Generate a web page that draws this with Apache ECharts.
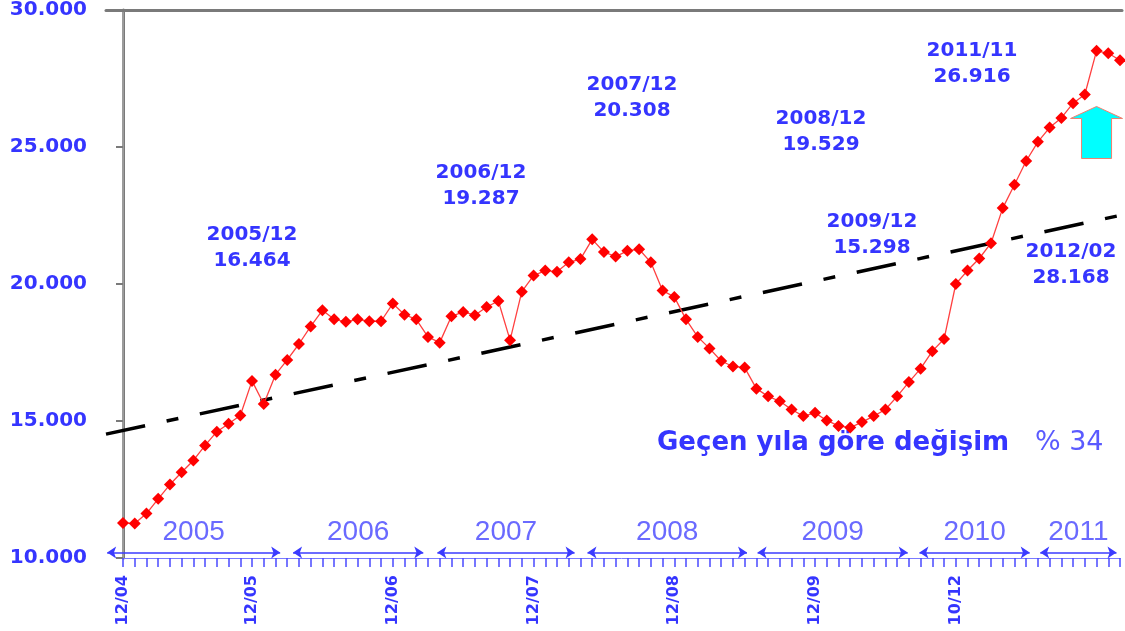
<!DOCTYPE html>
<html>
<head>
<meta charset="utf-8">
<title>Aylık seri 2005-2012</title>
<script src="https://cdn.jsdelivr.net/npm/echarts@6.0.0/dist/echarts.min.js"></script>
<style>
    html, body { margin: 0; padding: 0; background: #fff; }
    #chart { width: 1125px; height: 631px; }
</style>
</head>
<body>
<div id="chart"></div>
<script>
// aylar: 2005/01 .. 2012/02
var months = [];
for (var y = 2005; y <= 2012; y++) {
    for (var m = 1; m <= 12; m++) {
        if (y === 2012 && m > 2) break;
        months.push(y + '/' + (m < 10 ? '0' + m : m));
    }
}

// aylik degerler
var values = [
    11280, 11260, 11620, 12160, 12680, 13130, 13560, 14110, 14610, 14900, 15200, 16464,
    15620, 16690, 17230, 17810, 18450, 19040, 18710, 18620, 18710, 18640, 18640, 19287,
    18880, 18710, 18070, 17860, 18820, 18980, 18860, 19160, 19380, 17950, 19720, 20308,
    20490, 20450, 20790, 20910, 21630, 21170, 21000, 21210, 21270, 20790, 19760, 19529,
    18710, 18070, 17650, 17190, 16990, 16950, 16180, 15900, 15720, 15420, 15180, 15298,
    15020, 14820, 14760, 14960, 15180, 15420, 15900, 16420, 16910, 17550, 17990, 20000,
    20490, 20930, 21490, 22770, 23620, 24490, 25190, 25710, 26060, 26600, 26916,
    28510, 28420, 28168
];

// eksen etiketleri
var labelIdx = [0, 11, 23, 35, 47, 59, 71];
var labelText = ['12/04', '12/05', '12/06', '12/07', '12/08', '12/09', '10/12'];

// yil bantlari (ay indeksi cinsinden)
var years = ['2005', '2006', '2007', '2008', '2009', '2010', '2011'];
var yearStart = [-1.35, 14.5, 26.8, 39.6, 54.1, 67.9, 78.2];
var yearEnd = [13.4, 25.6, 38.5, 53.2, 66.9, 77.3, 84.7];
var yearBandY = 10200;

// trend
var xMin = -1.45, xMax = 85.17;
var trendY = [14520, 22520];

// notlar
var notes = ['2005/12\n16.464', '2006/12\n19.287', '2007/12\n20.308', '2008/12\n19.529',
             '2011/11\n26.916', '2009/12\n15.298', '2012/02\n28.168'];
var notePos = [[252, 248], [481, 186], [632, 98], [821, 132], [972, 64], [872, 235], [1071, 265]];

var arrowAt = [83.0, 25530];

var blue = '#3535ff';
var frame = '#7a7a7a';

var graphics = notes.map(function (t, i) {
    return {
        type: 'text',
        x: notePos[i][0],
        y: notePos[i][1],
        style: {
            text: t,
            font: 'bold 20px "DejaVu Sans"',
            fill: blue,
            align: 'center',
            verticalAlign: 'middle',
            lineHeight: 26
        }
    };
});
graphics.push({
    type: 'text',
    x: 657,
    y: 443,
    style: {
        text: '{b|Geçen yıla göre değişim}{r|   % 34}',
        align: 'left',
        verticalAlign: 'middle',
        rich: {
            b: { font: 'bold 26px "DejaVu Sans"', fill: blue },
            r: { font: '27px "DejaVu Sans"', fill: '#5a5aff' }
        }
    }
});

var option = {
    animation: false,
    backgroundColor: '#ffffff',
    grid: [
        { left: 106, right: 3, top: 5, bottom: 73 },
        { left: 123, right: 5, top: 5, bottom: 73 }
    ],
    xAxis: [
        {
            gridIndex: 0, type: 'value', min: xMin, max: xMax,
            axisLine: { show: false }, axisTick: { show: false },
            axisLabel: { show: false }, splitLine: { show: false }
        },
        {
            gridIndex: 0, type: 'value', position: 'top', min: xMin, max: xMax,
            axisLine: { show: true, lineStyle: { color: frame, width: 3 } },
            axisTick: { show: false }, axisLabel: { show: false }, splitLine: { show: false }
        },
        {
            gridIndex: 1, type: 'category', data: months, boundaryGap: false,
            axisLine: { show: true, lineStyle: { color: '#7a7aff', width: 1 } },
            axisTick: { show: true, interval: 0, length: 9, lineStyle: { color: '#4a4aff', width: 1.5 } },
            axisLabel: {
                interval: function (idx) { return labelIdx.indexOf(idx) >= 0; },
                formatter: function (val, idx) { return labelText[labelIdx.indexOf(idx)]; },
                rotate: 90,
                margin: 17,
                color: blue,
                fontFamily: 'DejaVu Sans',
                fontWeight: 'bold',
                fontSize: 16
            },
            splitLine: { show: false }
        }
    ],
    yAxis: [
        {
            gridIndex: 0, type: 'value', min: 10000, max: 30000, interval: 5000,
            axisLine: { show: true, lineStyle: { color: frame, width: 3 } },
            axisTick: { show: true, length: 7, lineStyle: { color: frame, width: 2 } },
            axisLabel: {
                margin: 19,
                color: blue,
                fontFamily: 'DejaVu Sans',
                fontWeight: 'bold',
                fontSize: 20,
                formatter: function (v) { return (v / 1000).toFixed(3); }
            },
            splitLine: { show: false }
        },
        {
            gridIndex: 0, type: 'value', position: 'right', min: 10000, max: 30000,
            axisLine: { show: true, lineStyle: { color: '#a8a8a8', width: 1.5 } },
            axisTick: { show: false }, axisLabel: { show: false }, splitLine: { show: false }
        },
        { gridIndex: 1, type: 'value', min: 10000, max: 30000, show: false }
    ],
    series: [
        {
            name: 'trend',
            type: 'line',
            xAxisIndex: 0,
            yAxisIndex: 0,
            data: [[xMin, trendY[0]], [xMax, trendY[1]]],
            symbol: 'none',
            lineStyle: { color: '#000000', width: 3.5, type: [40, 22, 12, 22] },
            z: 2,
            markLine: {
                silent: true,
                symbol: ['arrow', 'arrow'],
                symbolSize: 9,
                lineStyle: { color: '#3b3bff', width: 1.5, type: 'solid' },
                label: {
                    show: true,
                    position: 'middle',
                    distance: 6,
                    formatter: '{b}',
                    color: '#6a6aff',
                    fontFamily: 'Liberation Sans',
                    fontSize: 28
                },
                data: years.map(function (yr, i) {
                    return [
                        { name: yr, coord: [yearStart[i], yearBandY] },
                        { coord: [yearEnd[i], yearBandY] }
                    ];
                })
            }
        },
        {
            name: 'seri',
            type: 'line',
            xAxisIndex: 0,
            yAxisIndex: 0,
            data: values.map(function (v, i) { return [i, v]; }),
            symbol: 'diamond',
            symbolSize: 12,
            itemStyle: { color: '#ff0000' },
            lineStyle: { color: '#ff4040', width: 1.3 },
            z: 3,
            markPoint: {
                silent: true,
                symbol: 'path://M26,0 L52,12 L41,12 L41,52 L11,52 L11,12 L0,12 Z',
                symbolSize: [52, 52],
                itemStyle: { color: '#00ffff', borderColor: '#f08070', borderWidth: 1 },
                label: { show: false },
                data: [{ coord: arrowAt }]
            }
        }
    ],
    graphic: graphics
};

var chart = echarts.init(document.getElementById('chart'));
chart.setOption(option);
</script>
</body>
</html>
